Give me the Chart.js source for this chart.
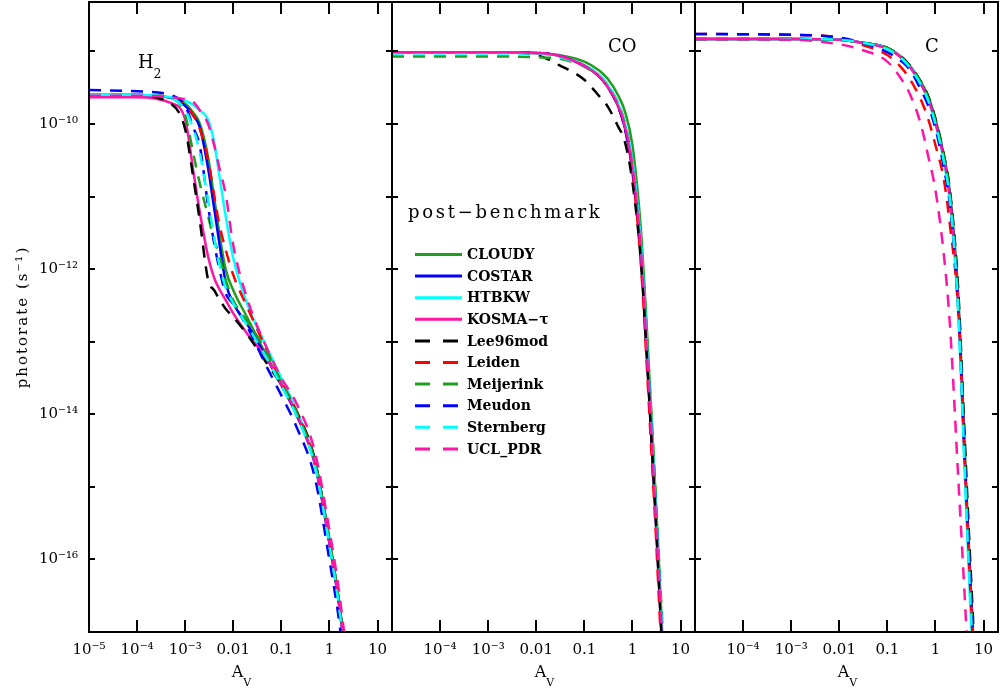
<!DOCTYPE html>
<html>
<head>
<meta charset="utf-8">
<title>Photorates vs A_V</title>
<script src="https://cdn.jsdelivr.net/npm/chart.js@4.4.1/dist/chart.umd.min.js"></script>
<style>
    html, body { margin: 0; padding: 0; background: #fff; }
    #wrap { position: relative; width: 1000px; height: 691px; }
    #wrap canvas { position: absolute; left: 0; top: 0; }
</style>
</head>
<body>
<div id="wrap">
    <canvas id="panelH2" width="1000" height="691"></canvas>
    <canvas id="panelCO" width="1000" height="691"></canvas>
    <canvas id="panelC" width="1000" height="691"></canvas>
</div>
<script>
// A_V sample points for each species
const AV_H2 = [1e-5, 1e-4, 5e-4, 1e-3, 1.5e-3, 2e-3, 3e-3, 4e-3, 5e-3, 7e-3, 0.01, 0.02, 0.05, 0.1, 0.2, 0.5, 1, 1.5, 2, 2.5];
const AV_CO = [1e-5, 1e-3, 0.01, 0.03, 0.1, 0.2, 0.3, 0.5, 0.7, 1, 1.5, 2, 2.5, 3, 3.5, 4, 5];
const AV_C  = [1e-5, 1e-3, 0.01, 0.03, 0.1, 0.2, 0.3, 0.5, 0.7, 1, 1.5, 2, 3, 4, 5, 6, 7, 8, 10];

// log10 photorate (s^-1), H2
const H2_CLOUDY    = [-9.60, -9.60, -9.64, -9.72, -9.85, -9.99, -10.46, -11.01, -11.46, -12.01, -12.29, -12.68, -13.20, -13.56, -13.94, -14.66, -15.74, -16.47, -17.12, -17.64];
const H2_COSTAR    = [-9.60, -9.60, -9.64, -9.75, -9.89, -10.04, -10.61, -11.16, -11.59, -12.19, -12.47, -12.77, -13.23, -13.60, -13.99, -14.69, -15.78, -16.51, -17.16, -17.68];
const H2_HTBKW     = [-9.60, -9.60, -9.63, -9.68, -9.74, -9.81, -9.94, -10.25, -10.66, -11.28, -11.85, -12.50, -13.08, -13.50, -13.92, -14.65, -15.71, -16.46, -17.12, -17.64];
const H2_KOSMA     = [-9.63, -9.63, -9.71, -9.94, -10.68, -11.20, -11.83, -12.12, -12.26, -12.43, -12.61, -12.90, -13.23, -13.59, -13.97, -14.68, -15.77, -16.50, -17.14, -17.67];
const H2_LEE96     = [-9.61, -9.61, -9.72, -10.07, -10.77, -11.32, -12.15, -12.29, -12.40, -12.55, -12.66, -12.91, -13.30, -13.59, -13.94, -14.63, -15.77, -16.50, -17.14, -17.67];
const H2_LEIDEN    = [-9.60, -9.60, -9.63, -9.72, -9.89, -10.06, -10.50, -10.98, -11.35, -11.74, -12.08, -12.54, -13.12, -13.56, -13.94, -14.66, -15.74, -16.48, -17.13, -17.66];
const H2_MEIJERINK = [-9.60, -9.60, -9.64, -9.88, -10.43, -10.81, -11.27, -11.60, -11.78, -12.15, -12.43, -12.73, -13.14, -13.57, -13.96, -14.66, -15.74, -16.48, -17.13, -17.66];
const H2_MEUDON    = [-9.53, -9.55, -9.60, -9.75, -10.06, -10.29, -11.13, -11.64, -11.96, -12.34, -12.48, -12.81, -13.35, -13.74, -14.15, -14.88, -16.01, -16.73, -17.39, -17.92];
const H2_STERNBERG = [-9.60, -9.60, -9.64, -9.81, -10.08, -10.39, -11.05, -11.57, -11.90, -12.26, -12.47, -12.79, -13.23, -13.61, -14.00, -14.72, -15.81, -16.54, -17.19, -17.71];
const H2_UCL       = [-9.61, -9.61, -9.63, -9.66, -9.70, -9.81, -10.00, -10.29, -10.57, -10.98, -11.67, -12.43, -13.09, -13.50, -13.83, -14.52, -15.60, -16.33, -16.98, -17.50];

// log10 photorate (s^-1), CO
const CO_CLOUDY    = [-9.01, -9.01, -9.02, -9.05, -9.14, -9.26, -9.37, -9.60, -9.83, -10.29, -11.46, -12.84, -14.06, -15.05, -15.94, -16.77, -18.15];
const CO_COSTAR    = [-9.01, -9.01, -9.02, -9.06, -9.20, -9.34, -9.48, -9.75, -10.06, -10.63, -11.81, -13.19, -14.36, -15.32, -16.22, -17.01, -18.36];
const CO_HTBKW     = [-9.01, -9.01, -9.02, -9.06, -9.19, -9.32, -9.45, -9.71, -9.99, -10.50, -11.63, -13.01, -14.19, -15.19, -16.08, -16.87, -18.25];
const CO_KOSMA     = [-9.01, -9.01, -9.02, -9.06, -9.20, -9.34, -9.48, -9.75, -10.04, -10.61, -11.77, -13.14, -14.32, -15.30, -16.19, -16.98, -18.33];
const CO_LEE96     = [-9.01, -9.01, -9.05, -9.19, -9.39, -9.61, -9.75, -10.03, -10.25, -10.80, -11.90, -13.23, -14.39, -15.35, -16.25, -17.03, -18.39];
const CO_LEIDEN    = [-9.01, -9.01, -9.02, -9.06, -9.20, -9.34, -9.48, -9.75, -10.06, -10.66, -11.94, -13.37, -14.57, -15.53, -16.46, -17.26, -18.63];
const CO_MEIJERINK = [-9.07, -9.07, -9.08, -9.10, -9.21, -9.34, -9.46, -9.71, -9.99, -10.50, -11.60, -12.91, -14.06, -15.02, -15.88, -16.63, -17.94];
const CO_MEUDON    = [-9.01, -9.01, -9.02, -9.06, -9.20, -9.34, -9.48, -9.75, -10.06, -10.61, -11.74, -13.09, -14.25, -15.21, -16.10, -16.87, -18.22];
const CO_STERNBERG = [-9.03, -9.03, -9.03, -9.08, -9.20, -9.32, -9.45, -9.72, -10.00, -10.52, -11.67, -13.05, -14.22, -15.19, -16.04, -16.81, -18.15];
const CO_UCL       = [-9.01, -9.01, -9.02, -9.06, -9.20, -9.34, -9.48, -9.74, -10.03, -10.58, -11.74, -13.14, -14.32, -15.30, -16.15, -16.94, -18.29];

// log10 photorate (s^-1), C
const C_CLOUDY    = [-8.83, -8.83, -8.84, -8.88, -8.95, -9.08, -9.20, -9.42, -9.61, -9.93, -10.43, -10.94, -12.40, -14.36, -15.88, -16.95, -17.92, -18.74, -20.12];
const C_COSTAR    = [-8.83, -8.83, -8.84, -8.88, -8.95, -9.09, -9.21, -9.45, -9.64, -9.97, -10.47, -10.99, -12.50, -14.50, -16.01, -17.12, -18.08, -18.91, -20.28];
const C_HTBKW     = [-8.83, -8.83, -8.84, -8.88, -8.95, -9.09, -9.21, -9.45, -9.66, -10.00, -10.52, -11.08, -12.63, -14.70, -16.26, -17.39, -18.36, -19.19, -20.57];
const C_KOSMA     = [-8.83, -8.83, -8.84, -8.88, -8.96, -9.09, -9.22, -9.45, -9.65, -9.98, -10.48, -11.00, -12.52, -14.52, -16.03, -17.13, -18.10, -18.93, -20.30];
const C_LEE96     = [-8.83, -8.83, -8.84, -8.88, -8.95, -9.08, -9.20, -9.42, -9.61, -9.93, -10.43, -10.91, -12.32, -14.22, -15.67, -16.77, -17.74, -18.57, -19.94];
const C_LEIDEN    = [-8.76, -8.77, -8.81, -8.91, -9.05, -9.23, -9.39, -9.67, -9.92, -10.29, -10.77, -11.39, -12.59, -14.52, -16.04, -17.14, -18.11, -18.94, -20.31];
const C_MEIJERINK = [-8.83, -8.83, -8.84, -8.88, -8.95, -9.09, -9.21, -9.43, -9.63, -9.96, -10.46, -10.97, -12.46, -14.44, -15.96, -17.06, -18.03, -18.85, -20.23];
const C_MEUDON    = [-8.76, -8.77, -8.81, -8.88, -9.01, -9.14, -9.26, -9.53, -9.74, -10.06, -10.61, -11.12, -12.54, -14.47, -15.94, -17.05, -18.01, -18.84, -20.22];
const C_STERNBERG = [-8.83, -8.83, -8.84, -8.88, -8.97, -9.10, -9.23, -9.46, -9.67, -10.00, -10.52, -11.05, -12.59, -14.63, -16.18, -17.28, -18.25, -19.08, -20.45];
const C_UCL       = [-8.83, -8.84, -8.90, -8.98, -9.14, -9.39, -9.60, -10.01, -10.43, -10.91, -11.81, -12.77, -14.91, -16.43, -17.67, -18.63, -19.46, -20.22, -21.39];

// Models, in legend order
const MODELS = ['CLOUDY', 'COSTAR', 'HTBKW', 'KOSMA\u2212\u03c4', 'Lee96mod', 'Leiden', 'Meijerink', 'Meudon', 'Sternberg', 'UCL_PDR'];
const COLORS = ['#1f9e1f', '#0000ff', '#00ffff', '#ff14a5', '#000000', '#ff0000', '#1f9e1f', '#0000ff', '#00ffff', '#ff14a5'];
const DASHED = [false, false, false, false, true, true, true, true, true, true];

// Axis ticks
const X_DECADES = [1e-5, 1e-4, 1e-3, 0.01, 0.1, 1, 10];
const X_LABELS = ['10\u207b\u2075', '10\u207b\u2074', '10\u207b\u00b3', '0.01', '0.1', '1', '10'];
const Y_DECADES = [1e-17, 1e-16, 1e-15, 1e-14, 1e-13, 1e-12, 1e-11, 1e-10, 1e-9];
const Y_LABELED = [1e-16, 1e-14, 1e-12, 1e-10];
const Y_LABELS = ['10\u207b\u00b9\u2076', '10\u207b\u00b9\u2074', '10\u207b\u00b9\u00b2', '10\u207b\u00b9\u2070'];

const SERIF = '"DejaVu Serif", serif';
Chart.defaults.font.family = SERIF;
Chart.defaults.color = '#000';

const PANELS = [
    { id: 'panelH2', left: 89, right: 392, av: AV_H2, species: 'H', sub: '2', labelX: 138, labelY: 68,
      rates: [H2_CLOUDY, H2_COSTAR, H2_HTBKW, H2_KOSMA, H2_LEE96, H2_LEIDEN, H2_MEIJERINK, H2_MEUDON, H2_STERNBERG, H2_UCL] },
    { id: 'panelCO', left: 392, right: 695, av: AV_CO, species: 'CO', sub: '', labelX: 608, labelY: 52, legend: true,
      rates: [CO_CLOUDY, CO_COSTAR, CO_HTBKW, CO_KOSMA, CO_LEE96, CO_LEIDEN, CO_MEIJERINK, CO_MEUDON, CO_STERNBERG, CO_UCL] },
    { id: 'panelC', left: 695, right: 998, av: AV_C, species: 'C', sub: '', labelX: 925, labelY: 52,
      rates: [C_CLOUDY, C_COSTAR, C_HTBKW, C_KOSMA, C_LEE96, C_LEIDEN, C_MEIJERINK, C_MEUDON, C_STERNBERG, C_UCL] }
];

function buildDatasets(av, rates) {
    return rates.map((logRate, i) => ({
        label: MODELS[i],
        data: av.map((a, k) => ({ x: a, y: Math.pow(10, logRate[k]) })),
        borderColor: COLORS[i],
        borderWidth: 2.5,
        borderDash: DASHED[i] ? [12, 9] : [],
        pointRadius: 0,
        cubicInterpolationMode: 'monotone',
        fill: false,
        order: rates.length - i
    }));
}

// Inward ticks on all four sides plus the panel frame
const framePlugin = {
    id: 'frame',
    afterDraw(chart) {
        const { ctx, chartArea: a } = chart;
        const x = chart.scales.x, y = chart.scales.y;
        ctx.save();
        ctx.strokeStyle = '#000';
        ctx.lineWidth = 2;
        ctx.beginPath();
        X_DECADES.forEach(v => {
            const px = Math.round(x.getPixelForValue(v));
            ctx.moveTo(px, a.bottom); ctx.lineTo(px, a.bottom - 12);
            ctx.moveTo(px, a.top); ctx.lineTo(px, a.top + 12);
        });
        Y_DECADES.forEach(v => {
            const py = Math.round(y.getPixelForValue(v));
            ctx.moveTo(a.left, py); ctx.lineTo(a.left + 6, py);
            ctx.moveTo(a.right, py); ctx.lineTo(a.right - 6, py);
        });
        ctx.stroke();
        ctx.strokeRect(a.left, a.top, a.right - a.left, a.bottom - a.top);
        ctx.restore();
    }
};

// Species label, A_V title, y title and the model key
const decorPlugin = {
    id: 'decor',
    afterDraw(chart, args, opts) {
        const { ctx, chartArea: a } = chart;
        const p = opts.panel;
        ctx.save();
        ctx.fillStyle = '#000';
        ctx.textAlign = 'left';
        ctx.textBaseline = 'alphabetic';

        ctx.font = '18px ' + SERIF;
        ctx.fillText(p.species, p.labelX, p.labelY);
        if (p.sub) {
            const w = ctx.measureText(p.species).width;
            ctx.font = '12px ' + SERIF;
            ctx.fillText(p.sub, p.labelX + w, p.labelY + 10);
        }

        // A_V
        ctx.font = '16px ' + SERIF;
        const wA = ctx.measureText('A').width;
        ctx.font = '11px ' + SERIF;
        const wV = ctx.measureText('V').width;
        const x0 = (a.left + a.right) / 2 + 1 - (wA + wV) / 2;
        ctx.font = '16px ' + SERIF;
        ctx.fillText('A', x0, 677);
        ctx.font = '11px ' + SERIF;
        ctx.fillText('V', x0 + wA, 686);

        if (p.id === 'panelH2') {
            ctx.save();
            ctx.translate(23, (a.top + a.bottom) / 2);
            ctx.rotate(-Math.PI / 2);
            ctx.font = '15px ' + SERIF;
            ctx.letterSpacing = '2px';
            ctx.textAlign = 'center';
            ctx.textBaseline = 'middle';
            ctx.fillText('photorate (s\u207b\u00b9)', 0, 0);
            ctx.restore();
        }

        if (p.legend) {
            ctx.font = '18px ' + SERIF;
            ctx.letterSpacing = '2.7px';
            ctx.fillText('post\u2212benchmark', 408, 218);
            ctx.letterSpacing = '0px';
            ctx.font = 'bold 14px ' + SERIF;
            ctx.textBaseline = 'middle';
            MODELS.forEach((name, i) => {
                const ry = 254.5 + i * 21.6;
                ctx.beginPath();
                ctx.strokeStyle = COLORS[i];
                ctx.lineWidth = 3;
                ctx.setLineDash(DASHED[i] ? [15, 13] : []);
                ctx.moveTo(415, ry);
                ctx.lineTo(DASHED[i] ? 458 : 462, ry);
                ctx.stroke();
                ctx.setLineDash([]);
                ctx.fillText(name, 467, ry + 1);
            });
        }
        ctx.restore();
    }
};

PANELS.forEach(p => {
    const first = p.id === 'panelH2';
    new Chart(document.getElementById(p.id), {
        type: 'line',
        data: { datasets: buildDatasets(p.av, p.rates) },
        options: {
            responsive: false,
            animation: false,
            devicePixelRatio: 1,
            events: [],
            layout: {
                autoPadding: false,
                padding: { left: first ? 0 : p.left, right: 1000 - p.right, top: 2, bottom: 0 }
            },
            plugins: {
                legend: { display: false },
                tooltip: { enabled: false },
                decor: { panel: p }
            },
            scales: {
                x: {
                    type: 'logarithmic',
                    min: 1e-5,
                    max: 20,
                    grid: { display: false, drawTicks: false },
                    border: { display: false },
                    afterFit: s => {
                        s.height = 59;
                        s.paddingLeft = 0;
                        s.paddingRight = 0;
                    },
                    afterBuildTicks: s => { s.ticks = X_DECADES.map(v => ({ value: v })); },
                    ticks: {
                        autoSkip: false,
                        maxRotation: 0,
                        padding: 9,
                        color: '#000',
                        font: { size: 15 },
                        callback: (v, i) => (!first && i === 0) ? '' : X_LABELS[i]
                    }
                },
                y: {
                    type: 'logarithmic',
                    min: 1e-17,
                    max: 4.8e-9,
                    display: first,
                    grid: { display: false, drawTicks: false },
                    border: { display: false },
                    afterFit: s => {
                        s.width = first ? 89 : 0;
                        s.paddingTop = 0;
                        s.paddingBottom = 0;
                    },
                    afterBuildTicks: s => { s.ticks = Y_LABELED.map(v => ({ value: v })); },
                    ticks: {
                        padding: 11,
                        color: '#000',
                        font: { size: 15 },
                        callback: (v, i) => Y_LABELS[i]
                    }
                }
            }
        },
        plugins: [framePlugin, decorPlugin]
    });
});
</script>
</body>
</html>
